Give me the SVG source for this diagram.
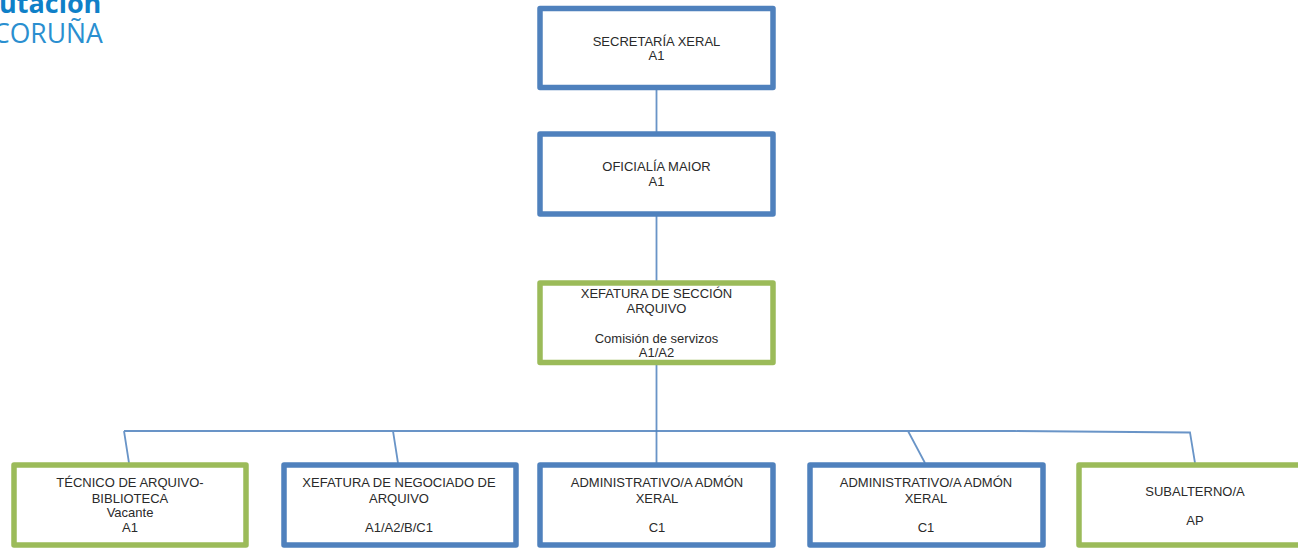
<svg xmlns="http://www.w3.org/2000/svg" width="1298" height="548" viewBox="0 0 1298 548">
<style>
.b{fill:#fff;stroke:#4f81bd;stroke-width:5.500;stroke-linejoin:round}
.g{fill:#fff;stroke:#9bbb59;stroke-width:5.500;stroke-linejoin:round}
.c{fill:none;stroke:#4f81bd;stroke-width:1.800;opacity:.85}
.t{font-family:"Liberation Sans",Arial,sans-serif;font-size:13px;fill:#2a2a2a;text-anchor:middle}
.l1{font-family:"Open Sans","Liberation Sans",sans-serif;font-weight:700;font-size:27px;fill:#0f80c8}
.l2{font-family:"Open Sans","Liberation Sans",sans-serif;font-size:26.500px;fill:#2a8fd0}
</style>
<rect width="1298" height="548" fill="#fff"/>
<g id="logo"><text class="l1" x="-1" y="13">utación</text><text class="l2" x="-7" y="43">CORUÑA</text></g>
<g id="connectors">
<path class="c" d="M656.500 90V132M656.500 216V281M656.500 365V463"/>
<path class="c" d="M124 431H1015L1190 432.500L1195 463M124 431L129 463M393 431L398 463M908 431L925 463"/>
</g>
<g id="n1"><rect class="b" x="540" y="8.500" width="233" height="79"/><text class="t" x="656.500" y="46">SECRETARÍA XERAL</text><text class="t" x="656.500" y="60">A1</text></g>
<g id="n2"><rect class="b" x="540" y="134" width="233" height="80"/><text class="t" x="656.500" y="171">OFICIALÍA MAIOR</text><text class="t" x="656.500" y="186">A1</text></g>
<g id="n3"><rect class="g" x="540" y="283" width="233" height="79.500"/><text class="t" x="656.500" y="298">XEFATURA DE SECCIÓN</text><text class="t" x="656.500" y="313">ARQUIVO</text><text class="t" x="656.500" y="343">Comisión de servizos</text><text class="t" x="656.500" y="357">A1/A2</text></g>
<g id="n4"><rect class="g" x="14" y="465" width="232" height="80"/><text class="t" x="130" y="487">TÉCNICO DE ARQUIVO-</text><text class="t" x="130" y="503">BIBLIOTECA</text><text class="t" x="130" y="517">Vacante</text><text class="t" x="130" y="532">A1</text></g>
<g id="n5"><rect class="b" x="284" y="465" width="232" height="80"/><text class="t" x="399" y="487">XEFATURA DE NEGOCIADO DE</text><text class="t" x="399" y="503">ARQUIVO</text><text class="t" x="399" y="532">A1/A2/B/C1</text></g>
<g id="n6"><rect class="b" x="540" y="465" width="233" height="80"/><text class="t" x="657" y="487">ADMINISTRATIVO/A ADMÓN</text><text class="t" x="657" y="503">XERAL</text><text class="t" x="657" y="532">C1</text></g>
<g id="n7"><rect class="b" x="810" y="465" width="233" height="80"/><text class="t" x="926" y="487">ADMINISTRATIVO/A ADMÓN</text><text class="t" x="926" y="503">XERAL</text><text class="t" x="926" y="532">C1</text></g>
<g id="n8"><rect class="g" x="1079" y="465" width="233" height="80"/><text class="t" x="1195" y="496">SUBALTERNO/A</text><text class="t" x="1195" y="525">AP</text></g>
</svg>
